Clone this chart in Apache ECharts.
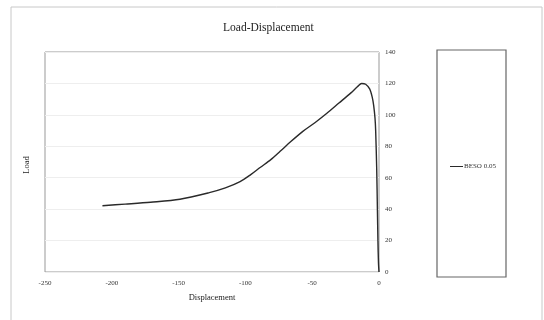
<!DOCTYPE html>
<html><head><meta charset="utf-8">
<script src="https://cdn.jsdelivr.net/npm/echarts@6/dist/echarts.min.js"></script>
<style>html,body{margin:0;padding:0;background:#fff}#c{width:544px;height:320px}</style>
</head><body><div id="c"></div>
<script>
const seriesName = 'BESO 0.05';
const displacement = [-207, -190, -171, -149, -127, -115, -104, -96, -89, -81, -74, -66, -57, -48, -39, -30, -21, -16, -13, -10, -7, -5, -4, -3, -2.5, -1.7, -1.2, -0.8, -0.4, 0];
const load = [42.2, 43.2, 44.4, 46.3, 50.5, 53.5, 57.5, 62, 66.5, 71.5, 76.8, 83, 89.5, 95, 101, 107.5, 114, 118, 120, 119.5, 116.5, 111, 106, 98, 90, 65, 40, 20, 6, 0];

const font = 'Liberation Serif';
const chart = echarts.init(document.getElementById('c'));
chart.setOption({
  animation: false,
  title: { text: 'Load-Displacement', left: 218, top: 17,
    textStyle: { fontFamily: font, fontSize: 11.5, fontWeight: 'normal', color: '#222' } },
  grid: { left: 45, top: 52, width: 334, height: 220, show: true, borderColor: '#999', borderWidth: 1 },
  xAxis: { type: 'value', min: -250, max: 0, interval: 50,
    name: 'Displacement', nameLocation: 'middle', nameGap: 21,
    nameTextStyle: { fontFamily: font, fontSize: 8.5, color: '#222' },
    axisLine: { show: false }, axisTick: { show: false }, splitLine: { show: false },
    axisLabel: { fontFamily: font, fontSize: 7, color: '#333', margin: 8 } },
  yAxis: { type: 'value', position: 'right', min: 0, max: 140, interval: 20,
    axisLine: { show: false }, axisTick: { show: false },
    splitLine: { lineStyle: { color: '#eeeeee', width: 1 } },
    axisLabel: { fontFamily: font, fontSize: 7, color: '#333', margin: 6 } },
  legend: { data: [seriesName], left: 445, top: 158, itemWidth: 13, itemHeight: 8, itemGap: 2,
    icon: 'path://M0,4L13,4L13,5L0,5Z',
    textStyle: { fontFamily: font, fontSize: 7, color: '#333', padding: [0,0,0,-4] } },
  graphic: [
    { type: 'rect', shape: { x: 11, y: 7, width: 531, height: 330 }, style: { fill: 'none', stroke: '#c8c8c8', lineWidth: 1 }, silent: true, z: -1 },
    { type: 'rect', shape: { x: 437, y: 50, width: 69, height: 227 }, style: { fill: 'none', stroke: '#666', lineWidth: 1.2 }, silent: true },
    { type: 'text', x: 27, y: 165, rotation: Math.PI / 2, style: { text: 'Load', fontFamily: font, fontSize: 8.5, fill: '#222', align: 'center', verticalAlign: 'middle' } }
  ],
  series: [{ name: seriesName, type: 'line', showSymbol: false, smooth: 0.3,
    lineStyle: { color: '#2a2a2a', width: 1.4 }, itemStyle: { color: '#2a2a2a' },
    data: displacement.map((d, i) => [d, load[i]]) }]
});
</script></body></html>
